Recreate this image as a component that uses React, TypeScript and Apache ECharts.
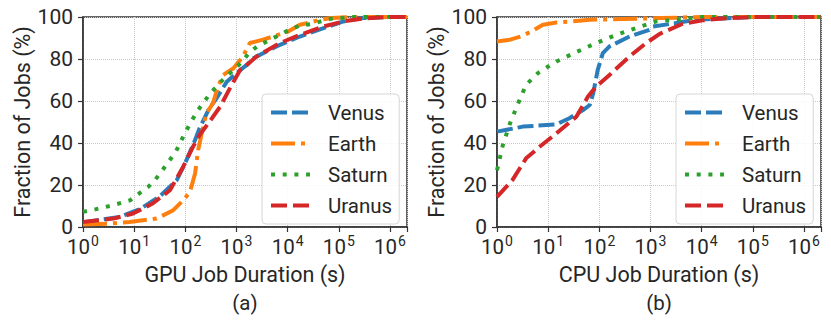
import React, { useEffect, useRef } from "react";
import * as echarts from "echarts";

const seriesNames = ["Venus", "Earth", "Saturn", "Uranus"];
const seriesColors = ["#2a7dba", "#ff7f0e", "#2ca02c", "#d62728"];
const xTitles = ["GPU Job Duration (s)", "CPU Job Duration (s)"];
const panelTags = ["(a)", "(b)"];
const yTitle = "Fraction of Jobs (%)";
const X_MIN = 1;
const X_MAX = 2.15e6;

// GPU panel (a)
const gpuVenus = [[1, 2.2], [5.2, 4.8], [13, 8.5], [32, 14.7], [68, 22.3], [105, 31.8], [155, 41.4], [190, 47], [282, 55.7], [407, 61.3], [646, 69.2], [1000, 73.2], [1585, 77.2], [2138, 80.4], [6026, 86], [17378, 90.7], [50119, 94.7], [123027, 97.9], [295121, 99.5], [1e6, 100], [2.15e6, 100]];
const gpuEarth = [[1, 1.2], [3.3, 1.6], [8.1, 2.4], [27.5, 4], [58, 8], [91, 12.7], [123, 16.7], [155, 25.5], [178, 36.6], [209, 44.6], [257, 54], [347, 59], [437, 66.9], [550, 72.4], [871, 75.6], [1349, 81.2], [1445, 82.8], [1820, 87.6], [3311, 89.2], [10233, 93.1], [17378, 96.3], [27542, 97.4], [42658, 98.7], [72444, 99.5], [200000, 100], [2.15e6, 100]];
const gpuSaturn = [[1, 7.2], [1.8, 8.5], [3.9, 10.4], [8.3, 12.7], [12.6, 16], [18.6, 19], [26, 22.6], [35.5, 27], [48, 31.4], [65, 35.8], [81, 40.6], [102, 45.4], [129, 50], [170, 55], [229, 59.4], [309, 63.7], [437, 67.7], [617, 71.6], [891, 74.8], [1288, 78.8], [1778, 83], [2630, 86.3], [4169, 88.7], [6607, 91.2], [10233, 93.6], [16596, 95.8], [27542, 96.6], [44668, 97.9], [72444, 99.2], [200000, 100], [2.15e6, 100]];
const gpuUranus = [[1, 2.4], [3.9, 4], [9.5, 6.4], [23, 11.2], [50, 17.5], [91, 28.7], [141, 38.2], [190, 43.8], [282, 49.4], [479, 57.3], [741, 66], [1175, 74.8], [1349, 75.6], [2455, 81.2], [7079, 87.6], [17378, 91.5], [50119, 95.5], [123027, 97.9], [300000, 99.3], [1e6, 100], [2.15e6, 100]];

// CPU panel (b)
const cpuVenus = [[1, 45.4], [3.2, 47.8], [14.5, 48.9], [26, 51.8], [48, 55.7], [65, 58.1], [76, 63.7], [93, 74.8], [117, 82.8], [158, 86], [389, 90.7], [955, 93.9], [1122, 95.5], [3162, 97.1], [7762, 98.7], [25119, 99.3], [100000, 100], [2.15e6, 100]];
const cpuEarth = [[1, 88.3], [1.8, 89.2], [3, 90.8], [4.7, 93.1], [7.9, 96.3], [14.5, 97.4], [30, 97.9], [65, 98.7], [288, 99], [1585, 99.5], [10000, 100], [2.15e6, 100]];
const cpuSaturn = [[1, 27], [1.3, 39], [1.8, 49.4], [2.6, 59], [3.7, 67.7], [6.3, 73.3], [10, 76.4], [14.5, 78.8], [35.5, 83.3], [87, 87.6], [214, 91.5], [525, 94.7], [1288, 97.9], [4266, 99], [10000, 100], [2.15e6, 100]];
const cpuUranus = [[1, 14.3], [2, 22.3], [3.7, 32.7], [6.8, 38.2], [14.5, 44.6], [35.5, 52.5], [60, 62.1], [87, 66.9], [158, 72.4], [389, 81.2], [813, 87.5], [1514, 92], [4266, 96.8], [10471, 98.4], [25119, 99.3], [100000, 100], [2.15e6, 100]];

const panels = [
  [gpuVenus, gpuEarth, gpuSaturn, gpuUranus],
  [cpuVenus, cpuEarth, cpuSaturn, cpuUranus],
];

const dashes = [[16, 5], [24, 6, 4, 6], [4, 7.7], [16, 6]];

const FONT = "Roboto";
const TXT = "#262626";
const SPINE = "#333333";

const gridPos = [
  { left: 83, right: 424 },
  { left: 497, right: 10 },
];
const legendLeft = [262, 676];
const tagX = [245, 659];

function logLabel(v: number) {
  const e = Math.log10(v);
  const r = Math.round(e);
  if (Math.abs(e - r) > 1e-6) return "";
  return "{b|10}{s|" + r + "}";
}

export default function App() {
  const ref = useRef<HTMLDivElement>(null);
  useEffect(() => {
    if (!ref.current) return;
    const chart = echarts.init(ref.current, null, { renderer: "svg" });
    const option: any = {
      animation: false,
      textStyle: { fontFamily: FONT, color: TXT },
      grid: gridPos.map((g) => ({
        left: g.left,
        right: g.right,
        top: 17,
        bottom: 98,
        show: true,
        borderColor: SPINE,
        borderWidth: 1.5,
        backgroundColor: "transparent",
        containLabel: false,
      })),
      xAxis: [0, 1].map((i) => ({
        type: "log",
        logBase: 10,
        gridIndex: i,
        min: X_MIN,
        max: X_MAX,
        name: xTitles[i],
        nameLocation: "middle",
        nameGap: 36,
        nameTextStyle: { fontFamily: FONT, fontSize: 21.5, color: TXT, verticalAlign: "top" },
        axisLine: { show: true, lineStyle: { color: SPINE, width: 1.5 } },
        axisTick: { show: true, length: 5, lineStyle: { color: SPINE, width: 1.2 } },
        minorTick: { show: false },
        axisLabel: {
          margin: 8,
          formatter: logLabel,
          color: TXT,
          rich: {
            b: { fontFamily: FONT, fontSize: 20.5, color: TXT, verticalAlign: "bottom", lineHeight: 22 },
            s: { fontFamily: FONT, fontSize: 14, color: TXT, verticalAlign: "bottom", lineHeight: 22, padding: [0, 0, 9, 1] },
          },
        },
        splitLine: { show: true, lineStyle: { type: "dotted", color: "#c8c8c8", width: 1 } },
      })),
      yAxis: [0, 1].map((i) => ({
        type: "value",
        gridIndex: i,
        min: 0,
        max: 100,
        interval: 20,
        name: yTitle,
        nameLocation: "middle",
        nameGap: 48,
        nameTextStyle: { fontFamily: FONT, fontSize: 21.5, color: TXT },
        axisLine: { show: true, lineStyle: { color: SPINE, width: 1.5 } },
        axisTick: { show: true, length: 5, lineStyle: { color: SPINE, width: 1.2 } },
        axisLabel: { fontFamily: FONT, fontSize: 21, color: TXT, margin: 10, lineHeight: 14 },
        splitLine: { show: true, lineStyle: { type: "dotted", color: "#c8c8c8", width: 1 } },
      })),
      legend: [0, 1].map((i) => ({
        data: seriesNames,
        orient: "vertical",
        left: legendLeft[i],
        top: 94,
        padding: [8, 7, 8, 7],
        itemWidth: 39,
        itemHeight: 19,
        itemGap: 10,
        backgroundColor: "rgba(255,255,255,0.85)",
        borderColor: "#d6d6d6",
        borderWidth: 1,
        borderRadius: 4,
        itemStyle: { opacity: 0 },
        lineStyle: { width: 4 },
        textStyle: { fontFamily: FONT, fontSize: 20.5, color: TXT, lineHeight: 19, padding: [0, 0, 0, 13] },
        selectedMode: false,
      })),
      graphic: [0, 1].map((i) => ({
        type: "text",
        x: tagX[i],
        y: 303,
        style: {
          text: panelTags[i],
          fontFamily: FONT,
          fontSize: 20.5,
          fill: TXT,
          textAlign: "center",
          textVerticalAlign: "middle",
        },
      })),
      series: panels.flatMap((panel, p) =>
        panel.map((data, k) => ({
          type: "line",
          name: seriesNames[k],
          xAxisIndex: p,
          yAxisIndex: p,
          data,
          symbol: "none",
          smooth: false,
          z: 2 + k,
          itemStyle: { color: seriesColors[k] },
          lineStyle: { color: seriesColors[k], width: 4, type: dashes[k], cap: "butt" },
        }))
      ),
    };
    chart.setOption(option);
    return () => chart.dispose();
  }, []);
  return (
    <div
      ref={ref}
      style={{ position: "fixed", left: 0, top: 0, width: 831, height: 325, background: "#fff" }}
    />
  );
}
